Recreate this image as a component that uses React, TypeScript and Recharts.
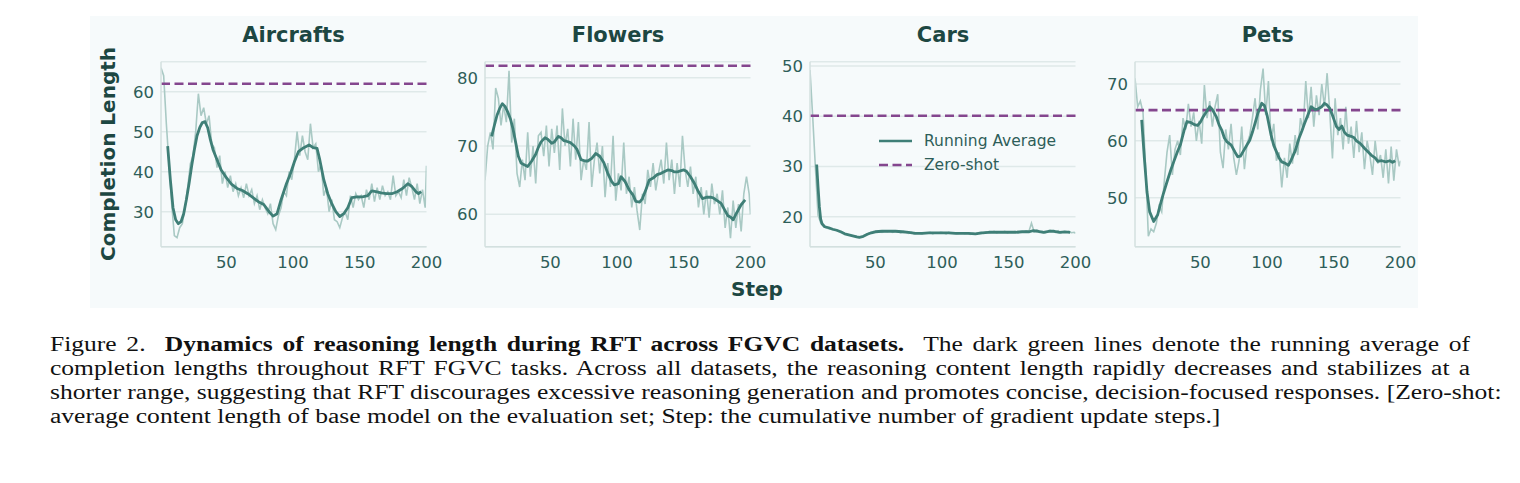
import React from "react";
import { LineChart, Line, XAxis, YAxis, CartesianGrid, ReferenceLine, Legend } from "recharts";

// raw completion lengths are sampled every other step (1, 3, ..., 199) plus the last step
const rawSteps = Array.from({ length: 100 }, (_, i) => 2 * i + 1).concat([200]);

const aircraftsRaw = [
  66, 64, 52, 42, 32, 24, 23.5, 26, 27, 31, 36, 42, 44, 50, 59.5, 54, 56, 52, 54, 47,
  46, 41, 44, 37, 40, 36, 39, 35, 37, 34, 36, 33.5, 37, 34, 35.5, 32, 34, 30.5, 33, 31,
  29.5, 32, 27, 25.5, 29, 31, 35, 34, 40, 38, 43, 50, 44, 49, 45, 43, 52, 46, 47, 40,
  42, 34, 36, 30, 33, 28, 27.5, 26, 28.5, 30, 28, 34, 31, 34.5, 33, 34, 31, 35.5, 33, 37,
  32.5, 36, 33, 36.5, 34, 35, 33, 39, 34, 35, 33.5, 38, 34, 38.5, 36, 33, 37, 32, 35.5, 31,
  41.5,
];
const aircraftsAvgSteps = [
  6, 8, 10, 12, 14, 16, 18, 20, 22, 24, 26, 28, 30, 32, 34, 36, 38, 40, 43, 46, 50, 54, 58, 62, 66,
  70, 74, 78, 82, 85, 88, 91, 95, 98, 101, 104, 108, 112, 115, 118, 120, 123, 126, 129, 132, 135,
  138, 141, 144, 148, 152, 156, 159, 162, 166, 170, 174, 178, 182, 186, 189, 192, 194, 196,
];
const aircraftsAvg = [
  46.4, 38, 31, 28, 27, 27.5, 29.5, 33, 37, 41.5, 45.5, 49, 51, 52.3, 52.5, 51, 48, 45.5, 43, 40.5,
  38.5, 36.8, 35.8, 35.3, 34.5, 33.5, 32.5, 31.8, 30, 28.9, 29.5, 33, 37, 39.5, 42.5, 45, 46, 46.7,
  46, 45.8, 43, 38, 34.5, 32, 30, 28.8, 29.5, 31, 33.5, 33.7, 33.7, 34, 35.2, 35, 34.7, 34.5, 34.5,
  35, 35.8, 37, 36.3, 35, 34.5, 35,
];

const flowersRaw = [
  65, 70, 72, 69.5, 78.5, 77, 73, 76, 73.5, 81, 70.5, 74, 66, 64, 68, 65, 72, 65.5, 70, 64.5,
  71.5, 72, 68.5, 73, 67, 72.5, 69, 73, 66.5, 75.5, 70, 72.5, 67, 74, 68, 73.5, 65, 68, 66.5, 73.5,
  64, 68, 70.5, 66, 70, 62.5, 67.5, 64, 71.5, 62, 66, 63.5, 70.5, 63, 65.5, 61, 64, 60.5, 57.7, 63,
  61.5, 66.5, 64, 67.5, 63.5, 66, 68, 64.5, 70.5, 65, 68, 63, 67.5, 64, 71.5, 66.5, 64, 67, 63, 65.5,
  61, 64, 60, 63.5, 59.5, 64.5, 61.5, 63, 60, 63.5, 58, 61, 56.5, 62, 58, 61.5, 57.5, 63, 65.5, 63,
  60,
];
const flowersAvgSteps = [
  6, 8, 10, 12, 14, 16, 18, 20, 22, 24, 26, 28, 30, 33, 36, 39, 41, 43, 46, 48, 51, 53, 56, 58, 60,
  62, 65, 68, 70, 73, 76, 78, 81, 84, 87, 90, 93, 96, 98, 101, 103, 106, 109, 112, 114, 117, 119,
  122, 124, 127, 130, 133, 136, 138, 141, 143, 145, 148, 150, 152, 155, 158, 161, 164, 167, 170,
  172, 175, 178, 181, 183, 185, 187, 189, 191, 193, 196,
];
const flowersAvg = [
  71.4, 73, 74.5, 75.5, 76.2, 75.8, 75, 74, 72.5, 70.5, 68.5, 67.5, 67.3, 67, 67.8, 68.8, 69.8, 70.6,
  71.2, 71, 70.4, 70.6, 71.4, 71.2, 70.8, 70.7, 70.5, 70, 69.5, 68, 67.8, 67.8, 68.2, 68.9, 68.5,
  67.6, 66, 64.8, 64.3, 64.5, 65.5, 64.8, 63.6, 62.8, 61.9, 61.8, 62.3, 63.8, 65, 65.3, 65.8, 66,
  66.3, 66.5, 66.4, 66.2, 66.2, 66.4, 66.5, 66.3, 65.5, 64.5, 63.3, 62.3, 62.5, 62.5, 62.4, 62,
  61.6, 60.5, 59.8, 59.6, 59.2, 60, 60.7, 61.4, 62.1,
];

const carsRaw = [
  49.2, 40, 30, 20.3, 18.8, 18.3, 17.8, 17.6, 17.5, 17.4, 17.3, 17, 16.9, 16.6, 16.5, 16.3, 16.2,
  16.1, 16, 15.9, 16.1, 16.4, 16.7, 16.9, 17.1, 17, 17.2, 16.9, 17.1, 17, 17.2, 16.9, 17.1, 17,
  16.8, 17.1, 16.9, 16.7, 16.9, 16.6, 16.8, 16.7, 16.6, 16.8, 16.7, 16.9, 16.6, 16.8, 16.7, 16.9,
  16.8, 16.6, 16.9, 16.7, 16.8, 16.6, 16.7, 16.8, 16.6, 16.7, 16.5, 16.7, 16.6, 16.8, 16.9, 16.7,
  17, 16.8, 16.9, 17.1, 16.8, 17, 16.9, 17.1, 16.8, 17, 16.9, 17.1, 16.8, 17, 16.9, 17.2, 17, 18.7,
  17, 17.3, 16.9, 17.1, 16.8, 17, 17.3, 17.1, 16.9, 17.2, 16.8, 17, 16.9, 17.1, 16.8, 16.9, 16.7,
];
const carsAvgSteps = [
  6, 7, 8, 9, 10, 12, 15, 18, 21, 24, 27, 30, 33, 36, 38, 41, 44, 47, 50, 55, 60, 65, 70, 75, 80,
  85, 90, 95, 100, 105, 110, 115, 120, 125, 130, 135, 140, 145, 150, 155, 160, 165, 168, 172, 176,
  180, 184, 188, 192, 196,
];
const carsAvg = [
  30.4, 26, 22, 19.5, 18.6, 18, 17.8, 17.5, 17.3, 17, 16.6, 16.4, 16.2, 16, 15.9, 16.1, 16.5, 16.8,
  17, 17.1, 17.1, 17.1, 17, 16.9, 16.7, 16.7, 16.8, 16.8, 16.8, 16.8, 16.7, 16.7, 16.7, 16.6, 16.8,
  16.9, 16.9, 16.9, 16.9, 16.9, 17, 17, 17.2, 17.1, 16.9, 17.1, 17.1, 16.9, 17, 16.9,
];

const petsRaw = [
  71, 66, 67, 65, 55, 43.2, 44.5, 44, 45.5, 48.5, 47.5, 53, 58, 61, 54, 58.5, 60, 57.5, 64, 62,
  66.5, 62.5, 65, 60, 63.5, 59.5, 69.8, 64, 67, 62.5, 66, 68.2, 58, 55.2, 62, 58.5, 63, 57, 54, 56.5,
  62.5, 55, 59.5, 61, 64, 67.5, 62, 69, 72.7, 64.5, 70.5, 60, 63, 56.5, 58, 51.8, 57, 53.5, 59.5, 56,
  61, 57.5, 64, 62, 70.5, 64, 69.5, 62.5, 68, 64.5, 70, 66, 71.9, 65, 56.9, 67.5, 61, 64, 58.5, 66,
  59.5, 62.5, 57, 63.5, 58, 61.5, 55, 60, 57.5, 54, 60, 56, 57.5, 53.5, 58.5, 52.5, 59, 53, 58.5,
  55.5, 56.5,
];
const petsAvgSteps = [
  6, 8, 10, 12, 15, 18, 20, 22, 25, 28, 30, 33, 35, 38, 40, 43, 46, 48, 50, 52, 55, 57, 59, 62, 64,
  66, 68, 70, 73, 76, 78, 80, 82, 85, 87, 89, 91, 93, 96, 98, 100, 103, 105, 107, 109, 111, 114,
  116, 118, 121, 124, 126, 128, 130, 133, 136, 138, 141, 143, 145, 147, 149, 152, 154, 156, 158,
  160, 163, 165, 167, 170, 173, 176, 178, 181, 183, 186, 189, 192, 194, 196,
];
const petsAvg = [
  63.7, 57, 51, 47.5, 45.8, 47, 48.8, 50.5, 52.8, 55, 56.3, 58.2, 59.3, 62, 63.4, 63.2, 62.8, 62.7,
  63.3, 64.2, 65.3, 66, 65.5, 64.2, 62.8, 61.9, 60.5, 59.8, 59.3, 58, 57.2, 57.3, 58.1, 59.3, 60.1,
  61.5, 63.1, 64.8, 66.6, 66.2, 64.5, 61, 59.2, 58.1, 57, 56.3, 56, 55.7, 56.6, 58.2, 60.5, 61.7, 63,
  64.2, 66, 65.5, 65.6, 66, 66.6, 66.3, 65.7, 64.5, 62.5, 62, 62.6, 61.5, 61, 60.8, 60.6, 60, 59.5,
  58.7, 58, 57.5, 57, 56.4, 56.5, 56.3, 56.5, 56.2, 56.5,
];

const titles = ["Aircrafts", "Flowers", "Cars", "Pets"];
const zeroShot = [62, 81.75, 40.1, 65.4];
const yDomains: [number, number][] = [
  [21.25, 67.5],
  [55.26, 82.34],
  [14.03, 50.86],
  [41.38, 73.92],
];
const yTicks = [
  [30, 40, 50, 60],
  [60, 70, 80],
  [20, 30, 40, 50],
  [50, 60, 70],
];
const xTicks = [50, 100, 150, 200];
const legendLabels = ["Running Average", "Zero-shot"];

const FONT = "'DejaVu Sans', sans-serif";
const BG = "#f6fafb";
const TICK = "#2e5e59";
const TITLE = "#1d4742";
const AVG = "#3f7f77";
const RAW = "#a9c9c4";
const ZERO = "#84468e";
const GRID = "#dfe9e9";
const SPINE = "#d3e0df";

const toRows = (steps: number[], vals: number[]) => steps.map((s, i) => ({ step: s, v: vals[i] }));

const panels = [
  { raw: aircraftsRaw, avgSteps: aircraftsAvgSteps, avg: aircraftsAvg },
  { raw: flowersRaw, avgSteps: flowersAvgSteps, avg: flowersAvg },
  { raw: carsRaw, avgSteps: carsAvgSteps, avg: carsAvg },
  { raw: petsRaw, avgSteps: petsAvgSteps, avg: petsAvg },
].map((p, i) => ({
  title: titles[i],
  rawRows: toRows(rawSteps, p.raw),
  avgRows: toRows(p.avgSteps, p.avg),
  zero: zeroShot[i],
  domain: yDomains[i],
  ticks: yTicks[i],
}));

// page x of each plot's left edge
const plotLefts = [160.7, 485.3, 810.3, 1135];
const PLOT_W = 265.5;
const PLOT_TOP = 61.7;
const PLOT_H = 185;
const Y_W = 50;
const RIGHT_PAD = 24;

function LegendBox() {
  return (
    <div style={{ fontFamily: FONT, fontSize: 15.5, color: TICK }}>
      {legendLabels.map((label, i) => (
        <div key={label} style={{ display: "flex", alignItems: "center", height: 24 }}>
          <svg width={33} height={6} style={{ marginRight: 12 }}>
            <line
              x1={0}
              x2={33}
              y1={3}
              y2={3}
              stroke={i === 0 ? AVG : ZERO}
              strokeWidth={2.6}
              strokeDasharray={i === 0 ? undefined : "9 4.5"}
            />
          </svg>
          <span>{label}</span>
        </div>
      ))}
    </div>
  );
}

function Panel({ p, i }: { p: (typeof panels)[number]; i: number }) {
  const left = plotLefts[i] - 8 - Y_W;
  return (
    <div style={{ position: "absolute", left, top: 0 }}>
      <LineChart
        width={Y_W + PLOT_W + RIGHT_PAD}
        height={PLOT_TOP - 8 + PLOT_H + 30}
        margin={{ top: PLOT_TOP - 8, right: RIGHT_PAD, bottom: 0, left: 0 }}
      >
        <CartesianGrid vertical={false} stroke={GRID} strokeWidth={1.5} />
        <XAxis
          type="number"
          dataKey="step"
          domain={[1, 200]}
          ticks={xTicks}
          allowDataOverflow
          tickLine={false}
          tickSize={0}
          tickMargin={10}
          height={30}
          axisLine={{ stroke: SPINE, strokeWidth: 1.5 }}
          tick={{ fill: TICK, fontSize: 16.5, fontFamily: FONT }}
        />
        <YAxis
          type="number"
          domain={p.domain}
          ticks={p.ticks}
          allowDataOverflow
          width={Y_W}
          tickLine={false}
          tickSize={0}
          tickMargin={7}
          axisLine={{ stroke: SPINE, strokeWidth: 1.5 }}
          tick={{ fill: TICK, fontSize: 16.5, fontFamily: FONT }}
        />
        <Line
          data={p.rawRows}
          dataKey="v"
          stroke={RAW}
          strokeWidth={1.6}
          dot={false}
          type="linear"
          legendType="none"
          isAnimationActive={false}
        />
        <ReferenceLine y={p.zero} stroke={ZERO} strokeWidth={2.6} strokeDasharray="9 4.5" />
        <Line
          data={p.avgRows}
          dataKey="v"
          stroke={AVG}
          strokeWidth={2.8}
          strokeLinejoin="round"
          dot={false}
          type="linear"
          isAnimationActive={false}
        />
        {i === 2 && (
          <Legend
            layout="vertical"
            align="center"
            verticalAlign="middle"
            content={() => <LegendBox />}
            wrapperStyle={{ position: "absolute", left: 879 - 8 - left, top: 141 - 8 - 12, width: "auto" }}
          />
        )}
      </LineChart>
    </div>
  );
}

const captionLines = [
  ["Figure 2.  ", "Dynamics of reasoning length during RFT across FGVC datasets.", "  The dark green lines denote the running average of"],
  ["completion lengths throughout RFT FGVC tasks. Across all datasets, the reasoning content length rapidly decreases and stabilizes at a"],
  ["shorter range, suggesting that RFT discourages excessive reasoning generation and promotes concise, decision-focused responses. [Zero-shot:"],
  ["average content length of base model on the evaluation set; Step: the cumulative number of gradient update steps.]"],
];
const CAP_SCALE = 1.246;

export default function App() {
  return (
    <div style={{ position: "relative", width: 1504, height: 467 }}>
      <div style={{ position: "absolute", left: 82, top: 8, width: 1328, height: 292, background: BG }} />
      {panels.map((p, i) => (
        <Panel key={p.title} p={p} i={i} />
      ))}
      <svg
        width={1504}
        height={300}
        style={{ position: "absolute", left: 0, top: 0, pointerEvents: "none" }}
        fontFamily={FONT}
        fontWeight="bold"
      >
        {panels.map((p, i) => (
          <text
            key={p.title}
            x={plotLefts[i] - 8 + PLOT_W / 2}
            y={34}
            textAnchor="middle"
            fontSize={21}
            fill={TITLE}
          >
            {p.title}
          </text>
        ))}
        <text x={106.5} y={146} textAnchor="middle" fontSize={20} fill={TITLE} transform="rotate(-90 106.5 146)">
          Completion Length
        </text>
        <text x={749} y={288} textAnchor="middle" fontSize={20} fill={TITLE}>
          Step
        </text>
      </svg>
      <div
        style={{
          position: "absolute",
          left: 42,
          top: 323.5,
          width: 1420 / CAP_SCALE,
          transform: `scaleX(${CAP_SCALE})`,
          transformOrigin: "0 0",
          fontFamily: "'Liberation Serif', 'Times New Roman', serif",
          fontSize: 20.5,
          lineHeight: "24px",
          color: "#111",
        }}
      >
        {captionLines.map((parts, li) => (
          <div
            key={li}
            style={{
              whiteSpace: "pre",
              textAlign: li < captionLines.length - 1 ? "justify" : "left",
              textAlignLast: li < captionLines.length - 1 ? "justify" : "left",
            }}
          >
            {parts.length === 3 ? (
              <>
                {parts[0]}
                <b>{parts[1]}</b>
                {parts[2]}
              </>
            ) : (
              parts[0]
            )}
          </div>
        ))}
      </div>
    </div>
  );
}
